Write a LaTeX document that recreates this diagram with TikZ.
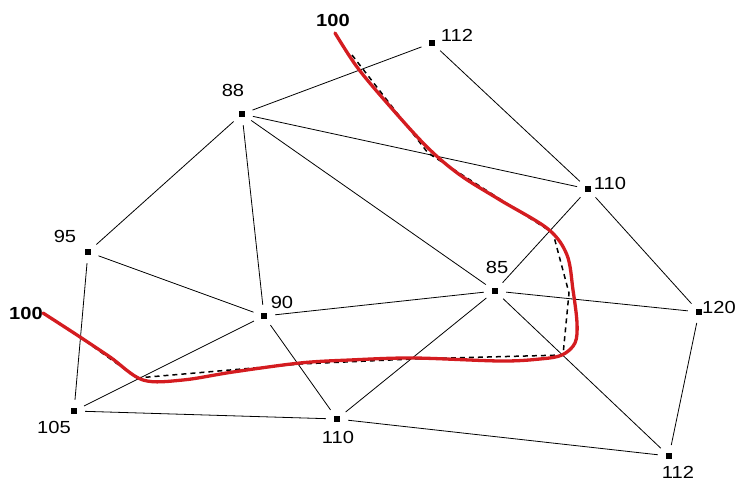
\documentclass[tikz,border=0pt]{standalone}
\usepackage{fontspec}
\setmainfont{Liberation Sans}[FakeStretch=1.15]
\begin{document}
\begin{tikzpicture}[x=1pt,y=-1pt,
  vtx/.style={circle, minimum size=22pt, inner sep=0pt,
    path picture={\fill[black] ([shift={(-3.2pt,-3.2pt)}]path picture bounding box.center) rectangle ++(6.4pt,6.4pt);}},
  edge/.style={draw=black, line width=0.8pt},
  lab/.style={font=\fontsize{17.5}{17.5}\selectfont, inner sep=0pt},
  blab/.style={font=\fontsize{17.5}{17.5}\selectfont\bfseries, inner sep=0pt},
  redline/.style={draw={rgb,255:red,212;green,28;blue,32}, line width=3.3pt, line cap=round, line join=round},
  dashline/.style={draw=black, line width=1.5pt, dash pattern=on 5pt off 4pt}]
\useasboundingbox (0,0) rectangle (737,481);
% vertices
\node[vtx] (A) at (242,114) {};
\node[vtx] (B) at (432,43) {};
\node[vtx] (C) at (588,189) {};
\node[vtx] (D) at (88,252) {};
\node[vtx] (E) at (495,291) {};
\node[vtx] (F) at (264,316) {};
\node[vtx] (G) at (699,312) {};
\node[vtx] (H) at (74,411) {};
\node[vtx] (I) at (337,419) {};
\node[vtx] (J) at (669,456) {};
% labels
\node[lab] (lA) at (233,90) {88};
\node[lab] (lB) at (457,35) {112};
\node[lab] (lC) at (610,183) {110};
\node[lab] (lD) at (65,236) {95};
\node[lab] (lE) at (497,267) {85};
\node[lab] (lF) at (282,302) {90};
\node[lab] (lG) at (719,307) {120};
\node[lab] (lH) at (54,427) {105};
\node[lab] (lI) at (338,437) {110};
\node[lab] (lJ) at (678,472) {112};
\node[blab] (t1) at (333,20) {100};
\node[blab] (t2) at (26,313) {100};
% edges
\draw[edge] (A) -- (B);
\draw[edge] (A) -- (C);
\draw[edge] (A) -- (D);
\draw[edge] (A) -- (F);
\draw[edge] (A) -- (E);
\draw[edge] (B) -- (C);
\draw[edge] (C) -- (E);
\draw[edge] (C) -- (G);
\draw[edge] (D) -- (F);
\draw[edge] (D) -- (H);
\draw[edge] (E) -- (F);
\draw[edge] (E) -- (G);
\draw[edge] (E) -- (I);
\draw[edge] (E) -- (J);
\draw[edge] (F) -- (H);
\draw[edge] (F) -- (I);
\draw[edge] (H) -- (I);
\draw[edge] (I) -- (J);
\draw[edge] (G) -- (J);
% dashed isoline
\draw[dashline] (352,55) -- (428,153) -- (553,233) -- (569,293) -- (563,355) -- (413,359) -- (300,364) -- (137,378) -- (77,335) -- (43,313);
% red curve
\draw[redline] plot[smooth, tension=0.55] coordinates {(335,33) (357,67) (387,103) (427,147) (460,175) (500,200) (548,229) (567,255) (573,290) (577,323) (575,343) (562,355) (540,359) (500,361) (413,358) (350,360) (300,363) (233,372) (183,380) (143,380) (110,357) (77,335) (43,313)};
\end{tikzpicture}
\end{document}
